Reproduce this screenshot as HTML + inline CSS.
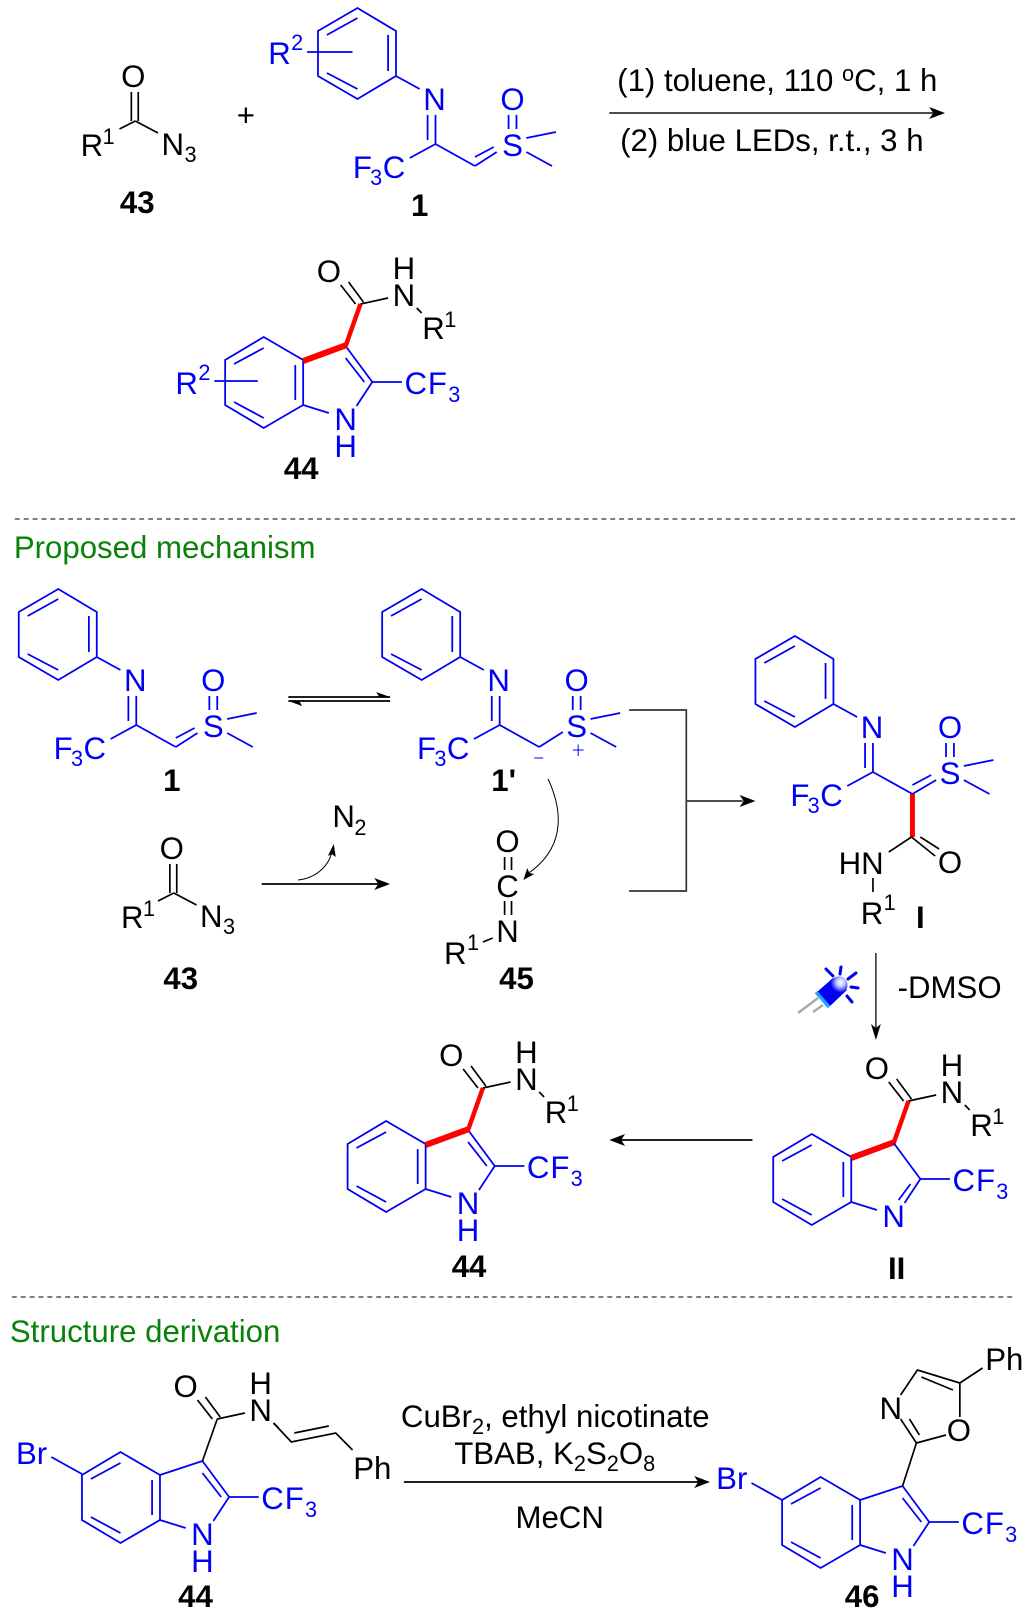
<!DOCTYPE html>
<html><head><meta charset="utf-8"><style>
html,body{margin:0;padding:0;background:#fff}
svg{display:block}
text{font-family:"Liberation Sans",Arial,sans-serif;font-size:31.6px;text-anchor:middle;fill:#000}
.u{fill:#0000f5}
.s{font-size:22px}
.b{font-weight:bold}
.l{text-anchor:start}
.g{fill:#0a820a;text-anchor:start}
.k{fill:none;stroke:#000;stroke-width:1.7}
.bl{fill:none;stroke:#0000f5;stroke-width:1.8}
.r{fill:none;stroke:#f00}
</style></head><body>
<svg width="1032" height="1624" viewBox="0 0 1032 1624" xmlns="http://www.w3.org/2000/svg">
<defs>
<path id="ph" d="M362 8L401 31V76L362 99L322 76V31ZM393 35V71M331 73L362 89M331 35L362 18M401 76L425 89M433 115V140M441 115V144M441 144L415 158M441 144L481 166M515 115V129M523 115V129M533 138L563 132M533 152L559 166"/>
<path id="ben" d="M267 337L307 360V405L267 428L228 405V360ZM237 364L267 348M237 402L267 418M299 365V400"/>
<path id="pyr" d="M307 405L333 413M377 382L361 406M350 346L377 382M350 358L369 382M377 382H407"/>
<path id="am" d="M345 285L360 304M353 282L368 302M365 304L393 298M422 308L427 313"/>
<g id="red"><path class="r" stroke-width="4.5" d="M365 304L350 346"/><path class="r" stroke-width="6" d="M351 345L307 361"/></g>
<radialGradient id="dome" cx="60%" cy="35%" r="60%"><stop offset="0" stop-color="#fff"/><stop offset=".4" stop-color="#c4c8ff"/><stop offset="1" stop-color="#0000f0"/></radialGradient>
</defs>

<g transform="scale(.9875 1)">
<!-- top: 43 -->
<path class="k" d="M133 92V121M140 92V121M137 121L121 129M137 121L160 133"/>
<text x="135" y="87">O</text><text x="93" y="156">R</text><text class="s" x="110" y="144">1</text><text x="175" y="155">N</text><text class="s" x="193" y="162">3</text>
<text class="b" x="139" y="213">43</text>
<text x="249" y="126">+</text>
<!-- top: 1 -->
<use href="#ph" class="bl"/>
<path class="bl" d="M481 166L503 152M481 157L500 147M311 52H357"/>
<text class="u" x="283" y="64">R</text><text class="u s" x="301" y="50">2</text>
<text class="u" x="440" y="110">N</text><text class="u" x="519" y="110">O</text><text class="u" x="519" y="156">S</text>
<text class="u" x="367" y="178">F</text><text class="u s" x="381" y="185">3</text><text class="u" x="399" y="178">C</text>
<text class="b" x="425" y="216">1</text>
<!-- reaction arrow -->
<path class="k" style="stroke:#333" d="M617 113H945"/><path d="M957 113L941 107L945 113L941 119Z"/>
<text class="l" x="625" y="91">(1) toluene, 110 <tspan class="s" dy="-10">o</tspan><tspan dy="10">C, 1 h</tspan></text>
<text class="l" x="628" y="151">(2) blue LEDs, r.t., 3 h</text>
<!-- top: 44 -->
<use href="#ben" class="bl"/><use href="#pyr" class="bl"/><use href="#am" class="k"/><use href="#red"/>
<path class="bl" d="M217 381H261"/>
<text x="333" y="282">O</text><text x="409" y="279">H</text><text x="409" y="306">N</text><text x="439" y="339">R</text><text class="s" x="456" y="327">1</text>
<text class="u" x="189" y="394">R</text><text class="u s" x="207" y="380">2</text>
<text class="u" x="350" y="430">N</text><text class="u" x="350" y="457">H</text>
<text class="u" x="421" y="394">C</text><text class="u" x="443" y="394">F</text><text class="u s" x="460" y="402">3</text>
<text class="b" x="305" y="479">44</text>

<path d="M15 519H1031" fill="none" stroke="#333" stroke-width="1.2" stroke-dasharray="5 4"/>
<text class="g" x="14" y="558">Proposed mechanism</text>

<!-- mech 1 -->
<g transform="translate(-303 581)">
<use href="#ph" class="bl"/><path class="bl" d="M481 166L503 152M481 157L500 147"/>
<text class="u" x="440" y="110">N</text><text class="u" x="519" y="110">O</text><text class="u" x="519" y="156">S</text>
<text class="u" x="367" y="178">F</text><text class="u s" x="381" y="185">3</text><text class="u" x="399" y="178">C</text>
</g>
<text class="b" x="174" y="791">1</text>
<!-- equilibrium -->
<path class="k" d="M292 697H395M292 701H395"/><path d="M395 697L381 692L384 697Z M292 701L306 706L303 701Z"/>
<!-- mech 1' -->
<g transform="translate(65 581)">
<use href="#ph" class="bl"/><path class="bl" d="M481 166L505 151"/>
<text class="u" x="440" y="110">N</text><text class="u" x="519" y="110">O</text><text class="u" x="519" y="156">S</text>
<text class="u" x="367" y="178">F</text><text class="u s" x="381" y="185">3</text><text class="u" x="399" y="178">C</text>
</g>
<path class="bl" style="stroke-width:1" d="M580 750H591M585.5 744.5V756M541 758H550"/>
<text class="b" x="510" y="791">1'</text>
<!-- bracket -->
<path class="k" style="stroke:#333" d="M637 710H695V891H637M695 801H752"/><path d="M765 801L749 795L753 801L749 807Z"/>
<!-- mech I -->
<g transform="translate(443 628)">
<use href="#ph" class="bl"/><path class="bl" d="M481 166L505 152M481 157L500 147"/>
<text class="u" x="440" y="110">N</text><text class="u" x="519" y="110">O</text><text class="u" x="519" y="156">S</text>
<text class="u" x="367" y="178">F</text><text class="u s" x="381" y="185">3</text><text class="u" x="399" y="178">C</text>
</g>
<path class="r" stroke-width="5" d="M924 794V837"/>
<path class="k" d="M923 837L947 856M932 837L951 849M923 837L900 852M884 878V892"/>
<text x="962" y="873">O</text><text x="872" y="874">HN</text><text x="883" y="924">R</text><text class="s" x="901" y="910">1</text><text class="b" x="932" y="928">I</text>
<!-- mech 43 -->
<g transform="translate(39 772)">
<path class="k" d="M133 92V121M140 92V121M137 121L121 129M137 121L160 133"/>
<text x="135" y="87">O</text><text x="95" y="156">R</text><text class="s" x="112" y="144">1</text><text x="175" y="155">N</text><text class="s" x="193" y="162">3</text>
</g>
<text class="b" x="183" y="989">43</text>
<text x="348" y="827">N</text><text class="s" x="365" y="835">2</text>
<path class="k" d="M265 884H383"/><path d="M395 884L379 878L383 884L379 890Z"/>
<path fill="none" stroke="#000" stroke-width="1" d="M302 880C320 878 333 866 336 852"/><path d="M338 844L332 856L336 854L340 857Z"/>
<path fill="none" stroke="#000" stroke-width="1" d="M555 779C572 815 570 850 534 874"/><path d="M530 880L534 868L536 873L541 874Z"/>
<!-- 45 -->
<path class="k" d="M511 857V870M518 857V870M511 901V915M518 901V915M489 942L499 938"/>
<text x="514" y="852">O</text><text x="514" y="897">C</text><text x="514" y="942">N</text><text x="461" y="964">R</text><text class="s" x="479" y="950">1</text>
<text class="b" x="523" y="989">45</text>
<!-- vertical arrow -->
<path class="k" style="stroke-width:1.3" d="M887 953V1030"/><path d="M887 1040L882 1024L887 1028L892 1024Z"/>
<text class="l" x="909" y="998">-DMSO</text>
<!-- mech 44 -->
<g transform="translate(124 784)">
<use href="#ben" class="bl"/><use href="#pyr" class="bl"/><use href="#am" class="k"/><use href="#red"/>
<text x="333" y="282">O</text><text x="409" y="279">H</text><text x="409" y="306">N</text><text x="439" y="339">R</text><text class="s" x="456" y="327">1</text>
<text class="u" x="350" y="430">N</text><text class="u" x="350" y="457">H</text>
<text class="u" x="421" y="394">C</text><text class="u" x="443" y="394">F</text><text class="u s" x="460" y="402">3</text>
</g>
<text class="b" x="475" y="1277">44</text>
<path class="k" d="M762 1140H629"/><path d="M617 1140L633 1134L629 1140L633 1146Z"/>
<!-- II -->
<g transform="translate(555 797)">
<use href="#ben" class="bl"/><use href="#am" class="k"/><use href="#red"/>
<path class="bl" d="M307 405L333 413M377 382L361 406M350 346L377 382M367 387L355 403M377 382H407"/>
<text x="333" y="282">O</text><text x="409" y="279">H</text><text x="409" y="306">N</text><text x="439" y="339">R</text><text class="s" x="456" y="327">1</text>
<text class="u" x="350" y="430">N</text>
<text class="u" x="421" y="394">C</text><text class="u" x="443" y="394">F</text><text class="u s" x="460" y="402">3</text>
</g>
<text class="b" x="908" y="1279">II</text>

<path d="M12 1297H1028" fill="none" stroke="#333" stroke-width="1.2" stroke-dasharray="5 4"/>
<text class="g" x="10" y="1342">Structure derivation</text>

<!-- derivation 44 -->
<g transform="translate(-145 1115)">
<use href="#ben" class="bl"/><use href="#pyr" class="bl"/><use href="#am" class="k"/>
<path class="bl" d="M307 360L350 346"/><path class="k" d="M365 304L350 346"/>
<text x="333" y="282">O</text><text x="409" y="279">H</text><text x="409" y="306">N</text>
<text class="u" x="350" y="430">N</text><text class="u" x="350" y="457">H</text>
<text class="u" x="421" y="394">C</text><text class="u" x="443" y="394">F</text><text class="u s" x="460" y="402">3</text>
</g>
<path class="k" d="M277 1423L295 1442L340 1433L357 1450M298 1433L333 1426"/>
<text x="377" y="1479">Ph</text>
<text class="u" x="32" y="1464">Br</text>
<path class="bl" d="M52 1457L83 1474"/>
<text class="b" x="198" y="1607">44</text>
<!-- derivation arrow -->
<path class="k" d="M409 1482H707"/><path d="M719 1482L703 1476L707 1482L703 1488Z"/>
<text class="l" x="406" y="1427">CuBr<tspan class="s" dy="7">2</tspan><tspan dy="-7">, ethyl nicotinate</tspan></text>
<text class="l" x="460" y="1464">TBAB, K<tspan class="s" dy="7">2</tspan><tspan dy="-7">S</tspan><tspan class="s" dy="7">2</tspan><tspan dy="-7">O</tspan><tspan class="s" dy="7">8</tspan></text>
<text class="l" x="522" y="1528">MeCN</text>
<!-- 46 -->
<g transform="translate(564 1140)">
<use href="#ben" class="bl"/><use href="#pyr" class="bl"/>
<path class="bl" d="M307 360L350 346"/>
<text class="u" x="350" y="430">N</text><text class="u" x="350" y="457">H</text>
<text class="u" x="421" y="394">C</text><text class="u" x="443" y="394">F</text><text class="u s" x="460" y="402">3</text>
</g>
<path class="k" d="M914 1486L928 1443M928 1443L958 1435M972 1417V1383L995 1368M972 1383L929 1370L912 1395M912 1419L928 1443M921 1419L931 1435M965 1390L933 1377"/>
<text x="902" y="1419">N</text><text x="971" y="1441">O</text><text x="1017" y="1370">Ph</text>
<text class="u" x="741" y="1489">Br</text>
<path class="bl" d="M761 1483L792 1500"/>
<text class="b" x="873" y="1607">46</text>
</g>

<!-- LED -->
<path d="M798 1013L818 998M813 1012L823 1005" stroke="#aaa" stroke-width="2.5" fill="none"/>
<path d="M817 992L833 978L847 990L829 1007Z" fill="#0000f0"/>
<path d="M816 992L829 1007" stroke="#18a8ff" stroke-width="3.5"/>
<circle cx="839" cy="985" r="8.500" fill="url(#dome)"/>
<path d="M826 969L833 976M841 967L840 974M856 973L848 979M858 988L851 987M852 1002L847 996" stroke="#0000f0" stroke-width="3" fill="none" stroke-linecap="round"/>
</svg>
</body></html>
